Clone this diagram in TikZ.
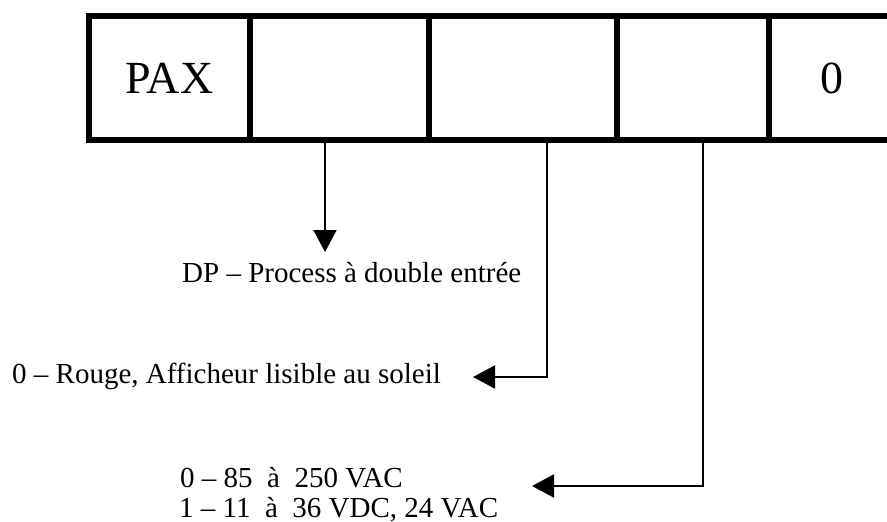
\documentclass[tikz,border=0pt]{standalone}
\usepackage{fontspec}
\setmainfont{Liberation Serif}
\usetikzlibrary{arrows.meta}
\begin{document}
\begin{tikzpicture}[x=1pt,y=1pt,
  cell/.style={draw, line width=5.5pt, inner sep=0pt, minimum height=124pt,
    font=\fontsize{46}{50}\selectfont},
  conn/.style={line width=2pt, -{Triangle[length=22pt,width=23pt]}},
  lbl/.style={inner sep=0pt, anchor=base west, font=\fontsize{29}{32}\selectfont}]
\useasboundingbox (0,0) rectangle (887,-522);
\fill[white] (0,0) rectangle (887,-522);
\clip (0,0) rectangle (887,-522);
% code cells
\node[cell, minimum width=161pt] (c1) at (169.5,-78) {PAX};
\node[cell, minimum width=179pt] (c2) at (339.5,-78) {};
\node[cell, minimum width=188pt] (c3) at (523,-78) {};
\node[cell, minimum width=152pt] (c4) at (693,-78) {};
\node[cell, minimum width=126pt] (c5) at (832,-78) {0};
% labels
\node[lbl] (dp) at (182,-282) {DP – Process à double entrée};
\node[lbl] (rouge) at (12,-383) {0 – Rouge, Afficheur lisible au soleil};
\node[lbl] (pw1) at (180,-487) {0 – 85~~à~~250 VAC};
\node[lbl] (pw2) at (179,-517) {1 – 11~~à~~36 VDC, 24 VAC};
% connector points
\coordinate (s1) at (325,-141);
\coordinate (t1) at (325,-252);
\coordinate (s2) at (547,-141);
\coordinate (t2) at (473,-377);
\coordinate (s3) at (703,-141);
\coordinate (t3) at (532,-486);
\draw[conn] (s1) -- (t1);
\draw[conn] (s2) |- (t2);
\draw[conn] (s3) |- (t3);
\end{tikzpicture}
\end{document}
